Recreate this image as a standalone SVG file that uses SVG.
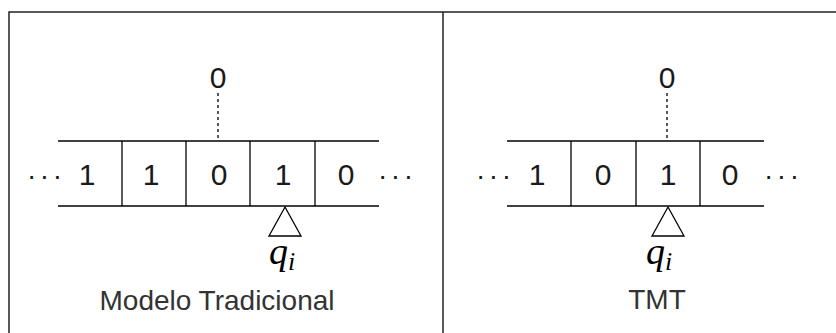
<svg xmlns="http://www.w3.org/2000/svg" width="836" height="333" viewBox="0 0 836 333">
<style>
.ln{stroke:#000;stroke-width:1.3;fill:none}
.frame{stroke:#222;stroke-width:1.5;fill:none}
.dash{stroke:#000;stroke-width:1.3;stroke-dasharray:3 3;fill:none}
.tri{stroke:#000;stroke-width:1.3;fill:#fff}
.d{font-family:"Liberation Sans",Arial,sans-serif;font-size:30px;fill:#1a1a1a;text-anchor:middle}
.el{font-family:"Liberation Sans",Arial,sans-serif;font-size:28px;fill:#1a1a1a;letter-spacing:3.5px}
.lab{font-family:"Liberation Sans",Arial,sans-serif;font-size:28px;fill:#333;text-anchor:middle}
.q{font-family:"Liberation Serif","Times New Roman",serif;font-style:italic;font-size:38px;fill:#000}
.s{font-family:"Liberation Serif","Times New Roman",serif;font-style:italic;font-size:26px;fill:#000}
</style>
<rect width="836" height="333" fill="#fff"/>
<g id="frame">
<path class="frame" d="M9,333 V12 H836"/>
<line class="frame" x1="443" y1="12" x2="443" y2="333"/>
</g>
<g id="tape-traditional">
<line class="ln" x1="58" y1="141" x2="379" y2="141"/>
<line class="ln" x1="58" y1="206" x2="379" y2="206"/>
<line class="ln" x1="122" y1="141" x2="122" y2="206"/>
<line class="ln" x1="186" y1="141" x2="186" y2="206"/>
<line class="ln" x1="250" y1="141" x2="250" y2="206"/>
<line class="ln" x1="315" y1="141" x2="315" y2="206"/>
<text class="el" x="27" y="185">···</text>
<text class="d" x="87" y="185">1</text>
<text class="d" x="151" y="185">1</text>
<text class="d" x="219" y="185">0</text>
<text class="d" x="283" y="185">1</text>
<text class="d" x="346" y="185">0</text>
<text class="el" x="378" y="185">···</text>
</g>
<g id="write-traditional">
<text class="d" x="218" y="88">0</text>
</g>
<g id="head-traditional">
<polygon class="tri" points="285,207 301,236 269,236"/>
<text x="269" y="264"><tspan class="q">q</tspan><tspan class="s" dy="6">i</tspan></text>
</g>
<g id="label-traditional">
<text class="lab" x="217" y="310">Modelo Tradicional</text>
</g>
<g id="tape-tmt">
<line class="ln" x1="507" y1="141" x2="764" y2="141"/>
<line class="ln" x1="507" y1="206" x2="764" y2="206"/>
<line class="ln" x1="571" y1="141" x2="571" y2="206"/>
<line class="ln" x1="636" y1="141" x2="636" y2="206"/>
<line class="ln" x1="700" y1="141" x2="700" y2="206"/>
<text class="el" x="476" y="185">···</text>
<text class="d" x="537" y="185">1</text>
<text class="d" x="603" y="185">0</text>
<text class="d" x="668" y="185">1</text>
<text class="d" x="730" y="185">0</text>
<text class="el" x="764" y="185">···</text>
</g>
<g id="write-tmt">
<text class="d" x="667" y="88">0</text>
</g>
<g id="head-tmt">
<polygon class="tri" points="668,207 684,236 652,236"/>
<text x="646" y="264"><tspan class="q">q</tspan><tspan class="s" dy="6">i</tspan></text>
</g>
<g id="label-tmt">
<text class="lab" x="657" y="309">TMT</text>
</g>
<g id="connectors">
<line class="dash" x1="218" y1="93" x2="218" y2="138"/>
<line class="dash" x1="667" y1="93" x2="667" y2="138"/>
</g>
</svg>
